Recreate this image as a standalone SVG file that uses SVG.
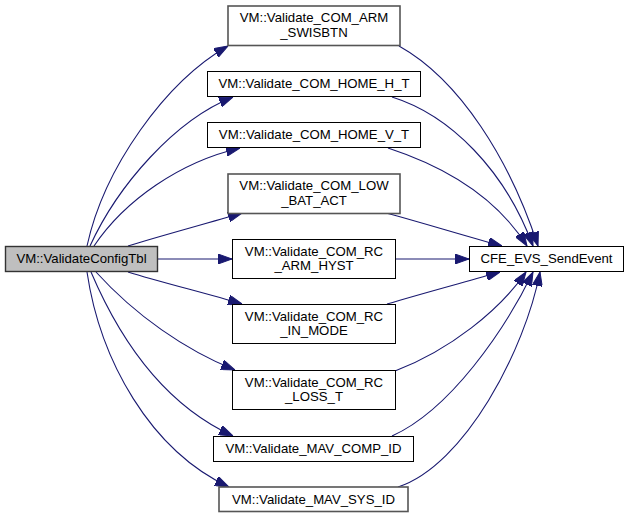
<svg xmlns="http://www.w3.org/2000/svg" width="629" height="518" viewBox="0 0 629 518">
<style>
text{font-family:"Liberation Sans",Arial,sans-serif;font-size:13.2px;fill:#000;text-anchor:middle}
.n{fill:#fff;stroke:#000;stroke-width:1}
.g{fill:#fff;stroke:#555;stroke-width:1.6}
.r{fill:#bfbfbf;stroke:#333;stroke-width:1.4}
.e{fill:none;stroke:#191970;stroke-width:1.1;marker-end:url(#ah)}
</style>
<defs>
<marker id="ah" viewBox="0 0 14 10" refX="14" refY="5" markerWidth="14" markerHeight="10" markerUnits="userSpaceOnUse" orient="auto">
<path d="M0,0 L14,5 L0,10 z" fill="#191970" stroke="#191970" stroke-width="1"/>
</marker>
</defs>
<rect width="629" height="518" fill="#fff"/>
<g id="edges">
<path class="e" d="M87,246 C104,168 165,82 228,46"/>
<path class="e" d="M90,246 C118,185 175,120 233,97"/>
<path class="e" d="M94,246 C125,200 180,162 240,148"/>
<path class="e" d="M128,246 C160,236 205,224 242,213"/>
<path class="e" d="M158,259 L232,259"/>
<path class="e" d="M128,272 C160,282 205,293 242,304"/>
<path class="e" d="M96,272 C135,315 185,350 235,370"/>
<path class="e" d="M91,272 C120,340 165,405 233,436"/>
<path class="e" d="M87,272 C100,360 150,450 229,487"/>
<path class="e" d="M399,46 C460,80 510,160 538,246"/>
<path class="e" d="M392,97 C450,115 505,170 533,246"/>
<path class="e" d="M388,148 C440,165 495,195 527,246"/>
<path class="e" d="M386,213 C420,222 465,236 502,246"/>
<path class="e" d="M396,259 L469,259"/>
<path class="e" d="M387,304 C420,294 465,282 500,272"/>
<path class="e" d="M395,371 C450,350 500,310 526,272"/>
<path class="e" d="M392,436 C450,410 505,330 533,272"/>
<path class="e" d="M398,487 C465,465 525,350 540,272"/>
</g>
<g id="root">
<rect class="r" x="5.5" y="246.5" width="152" height="25"/>
<text x="81.5" y="263">VM::ValidateConfigTbl</text>
</g>
<g id="n1">
<rect class="g" x="228" y="6" width="172" height="39.5"/>
<text x="314" y="22">VM::Validate_COM_ARM</text>
<text x="314" y="36.5">_SWISBTN</text>
</g>
<g id="n2">
<rect class="n" x="207.5" y="71.5" width="213" height="25"/>
<text x="314" y="88">VM::Validate_COM_HOME_H_T</text>
</g>
<g id="n3">
<rect class="n" x="207.5" y="122.5" width="213" height="25"/>
<text x="314" y="139">VM::Validate_COM_HOME_V_T</text>
</g>
<g id="n4">
<rect class="g" x="228" y="174" width="172" height="39.5"/>
<text x="314" y="190">VM::Validate_COM_LOW</text>
<text x="314" y="204.5">_BAT_ACT</text>
</g>
<g id="n5">
<rect class="n" x="232.5" y="239.5" width="163" height="39"/>
<text x="314" y="255.5">VM::Validate_COM_RC</text>
<text x="314" y="270">_ARM_HYST</text>
</g>
<g id="n6">
<rect class="n" x="232.5" y="304.5" width="163" height="39"/>
<text x="314" y="320.5">VM::Validate_COM_RC</text>
<text x="314" y="335">_IN_MODE</text>
</g>
<g id="n7">
<rect class="n" x="232.5" y="370.5" width="163" height="39"/>
<text x="314" y="386.5">VM::Validate_COM_RC</text>
<text x="314" y="401">_LOSS_T</text>
</g>
<g id="n8">
<rect class="n" x="213.5" y="436.5" width="200" height="25"/>
<text x="313.5" y="453">VM::Validate_MAV_COMP_ID</text>
</g>
<g id="n9">
<rect class="g" x="219" y="487" width="189" height="24.5"/>
<text x="313.5" y="503.5">VM::Validate_MAV_SYS_ID</text>
</g>
<g id="cfe">
<rect class="n" x="469.5" y="246.5" width="154" height="25"/>
<text x="546.5" y="263">CFE_EVS_SendEvent</text>
</g>
</svg>
